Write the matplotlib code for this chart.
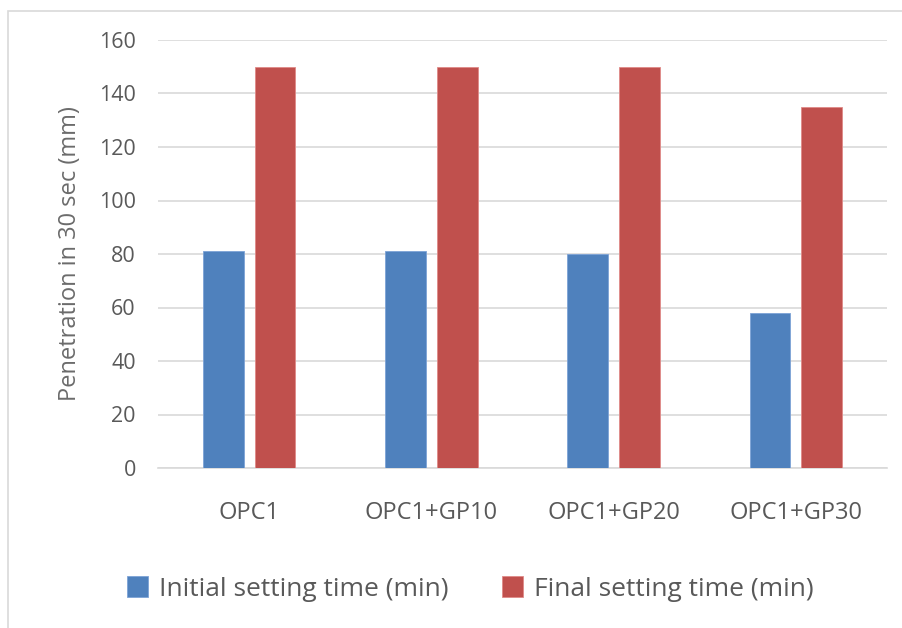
import numpy as np
import matplotlib.pyplot as plt
from matplotlib.patches import Rectangle

categories = ['OPC1', 'OPC1+GP10', 'OPC1+GP20', 'OPC1+GP30']
initial_setting = [81, 81, 80, 58]
final_setting = [150, 150, 150, 135]
series_names = ['Initial setting time (min)', 'Final setting time (min)']

plt.rcParams['font.family'] = ['Open Sans', 'DejaVu Sans']
text_color = '#595959'

fig = plt.figure(figsize=(9.02, 6.28), dpi=100)
ax = fig.add_axes([158 / 902, 1 - 468 / 628, 729 / 902, 428 / 628])

# light border of the chart area (only top and left visible in the picture)
fig.patches.append(Rectangle((8 / 902, -0.1), 1.2, 1 - 11 / 628 + 0.1,
                             transform=fig.transFigure, fill=False,
                             edgecolor='#d9d9d9', linewidth=1.2))

x = np.arange(len(categories))
width = 0.224
gap = 0.06
ax.bar(x - (width + gap) / 2, initial_setting, width, color='#4F81BD',
       edgecolor='#7da3d6', linewidth=0.6, label=series_names[0], zorder=3)
ax.bar(x + (width + gap) / 2, final_setting, width, color='#C0504D',
       edgecolor='#e08a88', linewidth=0.6, label=series_names[1], zorder=3)

ax.set_xlim(-0.5, len(categories) - 0.5)
ax.set_ylim(0, 160)
ax.set_yticks(range(0, 161, 20))
ax.yaxis.grid(True, color='#d9d9d9', linewidth=1.2, zorder=0)
ax.set_axisbelow(True)
for s in ['top', 'right', 'left']:
    ax.spines[s].set_visible(False)
ax.spines['bottom'].set_color('#d9d9d9')
ax.spines['bottom'].set_linewidth(1.2)

ax.set_xticks(x)
ax.set_xticklabels(categories)
ax.tick_params(axis='both', length=0, colors=text_color)
ax.tick_params(axis='x', labelsize=17, pad=24)
ax.tick_params(axis='y', labelsize=15.5, pad=16)
ax.set_ylabel('Penetration in 30 sec (mm)', fontsize=17, color='#6b6b6b', labelpad=12)

ax.legend(loc='center left', bbox_to_anchor=(-0.075, -0.283), ncol=2, frameon=False,
          fontsize=19, labelcolor=text_color, handlelength=0.8, handleheight=0.8,
          handletextpad=0.4, columnspacing=2.05)

fig.savefig('out.png', dpi=100)
